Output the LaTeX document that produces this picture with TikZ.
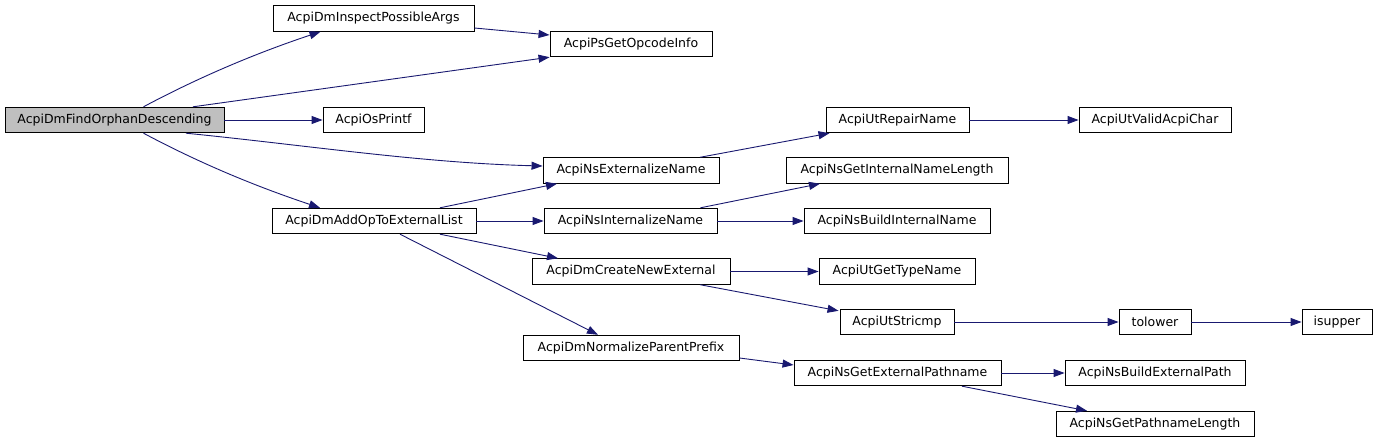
\documentclass[tikz,border=0pt]{standalone}
\usepackage{fontspec}
\setmainfont{DejaVu Sans}
\usetikzlibrary{arrows.meta}
\definecolor{edgeblue}{HTML}{191970}
\definecolor{rootgray}{HTML}{BFBFBF}
\begin{document}
\begin{tikzpicture}[x=1pt,y=-1pt,
  fn/.style={draw=black,line width=0.9pt,fill=white,inner sep=0pt,minimum height=25.5pt,font=\fontsize{12.5}{14}\selectfont},
  root/.style={fn,fill=rootgray},
  call/.style={draw=edgeblue,line width=0.9pt,-{Triangle[length=11pt,width=8pt,fill=edgeblue]}}]
\useasboundingbox (0,0) rectangle (1377,443);
\node[root,minimum width=219pt] (find) at (114.5,120) {AcpiDmFindOrphanDescending};
\node[fn,minimum width=201pt] (inspect) at (373.5,18.5) {AcpiDmInspectPossibleArgs};
\node[fn,minimum width=162pt] (ps) at (631,44) {AcpiPsGetOpcodeInfo};
\node[fn,minimum width=101pt] (osprintf) at (373.5,120) {AcpiOsPrintf};
\node[fn,minimum width=143pt] (repair) at (897.5,120) {AcpiUtRepairName};
\node[fn,minimum width=152pt] (valid) at (1155,120) {AcpiUtValidAcpiChar};
\node[fn,minimum width=176pt] (ext) at (631,170.5) {AcpiNsExternalizeName};
\node[fn,minimum width=222pt] (getintlen) at (897,170.5) {AcpiNsGetInternalNameLength};
\node[fn,minimum width=204pt] (addop) at (374,221) {AcpiDmAddOpToExternalList};
\node[fn,minimum width=173pt] (intname) at (630.5,221) {AcpiNsInternalizeName};
\node[fn,minimum width=186pt] (buildint) at (897,221) {AcpiNsBuildInternalName};
\node[fn,minimum width=198pt] (create) at (631,271.5) {AcpiDmCreateNewExternal};
\node[fn,minimum width=156pt] (typename) at (897,271.5) {AcpiUtGetTypeName};
\node[fn,minimum width=114pt] (stricmp) at (897,322) {AcpiUtStricmp};
\node[fn,minimum width=72pt] (tolower) at (1155,322) {tolower};
\node[fn,minimum width=70pt] (isupper) at (1337,322) {isupper};
\node[fn,minimum width=216pt] (normalize) at (631,348) {AcpiDmNormalizeParentPrefix};
\node[fn,minimum width=207pt] (extpath) at (897.5,373) {AcpiNsGetExternalPathname};
\node[fn,minimum width=180pt] (buildext) at (1155,373) {AcpiNsBuildExternalPath};
\node[fn,minimum width=198pt] (pathlen) at (1155,424) {AcpiNsGetPathnameLength};
% edges
\draw[call] ([xshift=29pt]find.north) .. controls +(60,-32) and +(-60,20) .. ([xshift=-53pt]inspect.south);
\draw[call] ([xshift=78.5pt]find.north) -- (ps.south west);
\draw[call] (find.east) -- (osprintf.west);
\draw[call] ([xshift=71.5pt]find.south) .. controls +(120,12) and +(-120,-3) .. ([yshift=4.5pt]ext.west);
\draw[call] ([xshift=29pt]find.south) .. controls +(60,32) and +(-60,-20) .. ([xshift=-54pt]addop.north);
\draw[call] ([yshift=-9.5pt]inspect.east) -- ([yshift=9pt]ps.west);
\draw[call] ([xshift=66pt]addop.north) -- ([xshift=-74pt]ext.south);
\draw[call] (addop.east) -- (intname.west);
\draw[call] ([xshift=66pt]addop.south) -- ([xshift=-73pt]create.north);
\draw[call] ([xshift=26pt]addop.south) -- ([xshift=-33pt]normalize.north);
\draw[call] ([xshift=69pt]ext.north) -- ([xshift=-68pt]repair.south);
\draw[call] (repair.east) -- (valid.west);
\draw[call] ([xshift=70pt]intname.north) -- ([xshift=-77pt]getintlen.south);
\draw[call] (intname.east) -- (buildint.west);
\draw[call] (create.east) -- (typename.west);
\draw[call] ([xshift=69pt]create.south) -- ([xshift=-1pt,yshift=-2pt]stricmp.north west);
\draw[call] (stricmp.east) -- (tolower.west);
\draw[call] (tolower.east) -- (isupper.west);
\draw[call] ([yshift=-10pt]normalize.east) -- ([yshift=8pt]extpath.west);
\draw[call] (extpath.east) -- (buildext.west);
\draw[call] ([xshift=64.5pt]extpath.south) -- ([xshift=-68pt]pathlen.north);
\end{tikzpicture}
\end{document}
